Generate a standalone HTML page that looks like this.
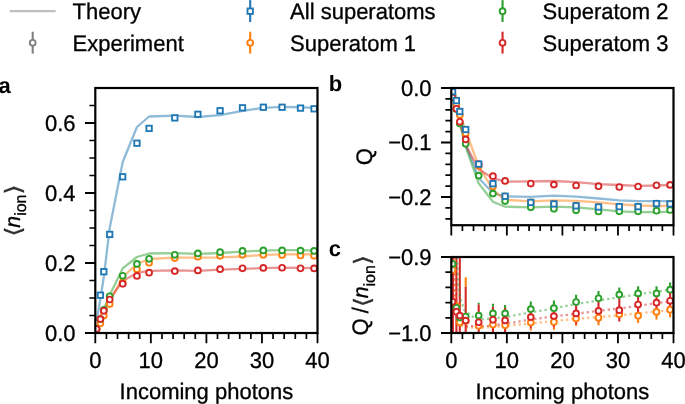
<!DOCTYPE html>
<html lang="en"><head><meta charset="utf-8"><title>Superatom ionization figure</title>
<style>html,body{margin:0;padding:0;background:#fff}body{width:685px;height:404px;overflow:hidden}svg{display:block}text{font-family:'Liberation Sans', sans-serif;font-size:22px;fill:#000;stroke:#000;stroke-width:0.3px;text-rendering:geometricPrecision}.b{font-weight:bold;stroke-width:0}.i{font-style:italic}</style>
</head><body>
<svg width="685" height="404" viewBox="0 0 685 404">
<rect width="685" height="404" fill="#fff"/>
<g id="legend">
<line x1="9.7" y1="11.2" x2="55.7" y2="11.2" stroke="#808080" stroke-opacity="0.5" stroke-width="2.3"/>
<line x1="32.7" y1="31.7" x2="32.7" y2="53.6" stroke="#808080" stroke-width="2.1"/>
<circle cx="32.7" cy="42.8" r="2.9" fill="#fff" stroke="#808080" stroke-width="1.9"/>
<line x1="250.2" y1="0.1" x2="250.2" y2="22" stroke="#1f77b4" stroke-width="2.1"/>
<rect x="247.5" y="8.5" width="5.4" height="5.4" fill="#fff" stroke="#1f77b4" stroke-width="1.85"/>
<line x1="250.2" y1="31.7" x2="250.2" y2="53.6" stroke="#ff7f0e" stroke-width="2.1"/>
<circle cx="250.2" cy="42.8" r="2.9" fill="#fff" stroke="#ff7f0e" stroke-width="1.9"/>
<line x1="502.55" y1="0.1" x2="502.55" y2="22" stroke="#2ca02c" stroke-width="2.1"/>
<circle cx="502.55" cy="11.2" r="2.9" fill="#fff" stroke="#2ca02c" stroke-width="1.9"/>
<line x1="502.55" y1="31.7" x2="502.55" y2="53.6" stroke="#d62728" stroke-width="2.1"/>
<circle cx="502.55" cy="42.8" r="2.9" fill="#fff" stroke="#d62728" stroke-width="1.9"/>
<text transform="translate(72.5 19) scale(1 1.02)" text-anchor="start" >Theory</text>
<text transform="translate(72.5 50.5) scale(1 1.02)" text-anchor="start" >Experiment</text>
<text transform="translate(290.1 19) scale(1 1.02)" text-anchor="start" >All superatoms</text>
<text transform="translate(290.1 50.5) scale(1 1.02)" text-anchor="start" >Superatom 1</text>
<text transform="translate(542.5 19) scale(1 1.02)" text-anchor="start" >Superatom 2</text>
<text transform="translate(542.5 50.5) scale(1 1.02)" text-anchor="start" >Superatom 3</text>
</g>
<g id="panel-a">
<clipPath id="ca"><rect x="95.3" y="88" width="222.2" height="245"/></clipPath>
<g clip-path="url(#ca)">
<polyline points="96.55,321 100.4,299 103.8,277 109.7,228 122.7,162 136.95,127 149.1,116.5 174.8,115.7 197.9,117 220.1,115.1 242.5,110.9 263.3,107.8 282.1,106.9 300.5,107.25 314.1,107.8" fill="none" stroke="#1f77b4" stroke-opacity="0.5" stroke-width="2.3" stroke-linejoin="round" />
<polyline points="96.55,330 100.4,322 103.8,314 109.7,302 122.7,277 136.95,264 149.1,259 174.8,257.6 197.9,257.6 220.1,257.4 242.5,256.5 263.3,254.8 282.1,254.3 300.5,254.1 314.1,254.4" fill="none" stroke="#ff7f0e" stroke-opacity="0.5" stroke-width="2.3" stroke-linejoin="round" />
<polyline points="96.55,329 100.4,319 103.8,309 109.7,295 122.7,268.4 136.95,257 149.1,253.5 174.8,253.2 197.9,253.9 220.1,253 242.5,251.6 263.3,250.6 282.1,250.2 300.5,250.2 314.1,250.6" fill="none" stroke="#2ca02c" stroke-opacity="0.5" stroke-width="2.3" stroke-linejoin="round" />
<polyline points="96.55,329 100.4,320 103.8,311.5 109.7,299 122.7,281 136.95,273 149.1,270.8 174.8,270.4 197.9,270.8 220.1,269.7 242.5,268.8 263.3,268.1 282.1,267.6 300.5,267.9 314.1,268.1" fill="none" stroke="#d62728" stroke-opacity="0.5" stroke-width="2.3" stroke-linejoin="round" />
<circle cx="96.55" cy="329" r="2.9" fill="#fff" stroke="#ff7f0e" stroke-width="1.9"/>
<circle cx="100.4" cy="323.2" r="2.9" fill="#fff" stroke="#ff7f0e" stroke-width="1.9"/>
<circle cx="103.8" cy="315.6" r="2.9" fill="#fff" stroke="#ff7f0e" stroke-width="1.9"/>
<circle cx="109.7" cy="304" r="2.9" fill="#fff" stroke="#ff7f0e" stroke-width="1.9"/>
<circle cx="122.7" cy="282.4" r="2.9" fill="#fff" stroke="#ff7f0e" stroke-width="1.9"/>
<circle cx="136.95" cy="269.3" r="2.9" fill="#fff" stroke="#ff7f0e" stroke-width="1.9"/>
<circle cx="149.1" cy="262.7" r="2.9" fill="#fff" stroke="#ff7f0e" stroke-width="1.9"/>
<circle cx="174.8" cy="258.1" r="2.9" fill="#fff" stroke="#ff7f0e" stroke-width="1.9"/>
<circle cx="197.9" cy="256.7" r="2.9" fill="#fff" stroke="#ff7f0e" stroke-width="1.9"/>
<circle cx="220.1" cy="255.8" r="2.9" fill="#fff" stroke="#ff7f0e" stroke-width="1.9"/>
<circle cx="242.5" cy="254.8" r="2.9" fill="#fff" stroke="#ff7f0e" stroke-width="1.9"/>
<circle cx="263.3" cy="254.8" r="2.9" fill="#fff" stroke="#ff7f0e" stroke-width="1.9"/>
<circle cx="282.1" cy="254.96" r="2.9" fill="#fff" stroke="#ff7f0e" stroke-width="1.9"/>
<circle cx="300.5" cy="255.5" r="2.9" fill="#fff" stroke="#ff7f0e" stroke-width="1.9"/>
<circle cx="314.1" cy="255.8" r="2.9" fill="#fff" stroke="#ff7f0e" stroke-width="1.9"/>
<circle cx="96.55" cy="329" r="2.9" fill="#fff" stroke="#2ca02c" stroke-width="1.9"/>
<circle cx="100.4" cy="319.1" r="2.9" fill="#fff" stroke="#2ca02c" stroke-width="1.9"/>
<circle cx="103.8" cy="309.8" r="2.9" fill="#fff" stroke="#2ca02c" stroke-width="1.9"/>
<circle cx="109.7" cy="296.3" r="2.9" fill="#fff" stroke="#2ca02c" stroke-width="1.9"/>
<circle cx="122.7" cy="275.8" r="2.9" fill="#fff" stroke="#2ca02c" stroke-width="1.9"/>
<circle cx="136.95" cy="263.9" r="2.9" fill="#fff" stroke="#2ca02c" stroke-width="1.9"/>
<circle cx="149.1" cy="258.8" r="2.9" fill="#fff" stroke="#2ca02c" stroke-width="1.9"/>
<circle cx="174.8" cy="254.8" r="2.9" fill="#fff" stroke="#2ca02c" stroke-width="1.9"/>
<circle cx="197.9" cy="253.4" r="2.9" fill="#fff" stroke="#2ca02c" stroke-width="1.9"/>
<circle cx="220.1" cy="252.15" r="2.9" fill="#fff" stroke="#2ca02c" stroke-width="1.9"/>
<circle cx="242.5" cy="250.9" r="2.9" fill="#fff" stroke="#2ca02c" stroke-width="1.9"/>
<circle cx="263.3" cy="250.4" r="2.9" fill="#fff" stroke="#2ca02c" stroke-width="1.9"/>
<circle cx="282.1" cy="250.4" r="2.9" fill="#fff" stroke="#2ca02c" stroke-width="1.9"/>
<circle cx="300.5" cy="250.6" r="2.9" fill="#fff" stroke="#2ca02c" stroke-width="1.9"/>
<circle cx="314.1" cy="250.9" r="2.9" fill="#fff" stroke="#2ca02c" stroke-width="1.9"/>
<circle cx="96.55" cy="329" r="2.9" fill="#fff" stroke="#d62728" stroke-width="1.9"/>
<circle cx="100.4" cy="319.1" r="2.9" fill="#fff" stroke="#d62728" stroke-width="1.9"/>
<circle cx="103.8" cy="310.8" r="2.9" fill="#fff" stroke="#d62728" stroke-width="1.9"/>
<circle cx="109.7" cy="299.5" r="2.9" fill="#fff" stroke="#d62728" stroke-width="1.9"/>
<circle cx="122.7" cy="283.8" r="2.9" fill="#fff" stroke="#d62728" stroke-width="1.9"/>
<circle cx="136.95" cy="275.9" r="2.9" fill="#fff" stroke="#d62728" stroke-width="1.9"/>
<circle cx="149.1" cy="272.7" r="2.9" fill="#fff" stroke="#d62728" stroke-width="1.9"/>
<circle cx="174.8" cy="271.1" r="2.9" fill="#fff" stroke="#d62728" stroke-width="1.9"/>
<circle cx="197.9" cy="270.4" r="2.9" fill="#fff" stroke="#d62728" stroke-width="1.9"/>
<circle cx="220.1" cy="269.15" r="2.9" fill="#fff" stroke="#d62728" stroke-width="1.9"/>
<circle cx="242.5" cy="268.3" r="2.9" fill="#fff" stroke="#d62728" stroke-width="1.9"/>
<circle cx="263.3" cy="267.9" r="2.9" fill="#fff" stroke="#d62728" stroke-width="1.9"/>
<circle cx="282.1" cy="267.75" r="2.9" fill="#fff" stroke="#d62728" stroke-width="1.9"/>
<circle cx="300.5" cy="268.3" r="2.9" fill="#fff" stroke="#d62728" stroke-width="1.9"/>
<circle cx="314.1" cy="268.4" r="2.9" fill="#fff" stroke="#d62728" stroke-width="1.9"/>
<rect x="97.7" y="292.5" width="5.4" height="5.4" fill="#fff" stroke="#1f77b4" stroke-width="1.85"/>
<rect x="101.1" y="269" width="5.4" height="5.4" fill="#fff" stroke="#1f77b4" stroke-width="1.85"/>
<rect x="107" y="231.7" width="5.4" height="5.4" fill="#fff" stroke="#1f77b4" stroke-width="1.85"/>
<rect x="120" y="174.1" width="5.4" height="5.4" fill="#fff" stroke="#1f77b4" stroke-width="1.85"/>
<rect x="134.25" y="140.5" width="5.4" height="5.4" fill="#fff" stroke="#1f77b4" stroke-width="1.85"/>
<rect x="146.4" y="125.7" width="5.4" height="5.4" fill="#fff" stroke="#1f77b4" stroke-width="1.85"/>
<rect x="172.1" y="115.2" width="5.4" height="5.4" fill="#fff" stroke="#1f77b4" stroke-width="1.85"/>
<rect x="195.2" y="111.6" width="5.4" height="5.4" fill="#fff" stroke="#1f77b4" stroke-width="1.85"/>
<rect x="217.4" y="108.05" width="5.4" height="5.4" fill="#fff" stroke="#1f77b4" stroke-width="1.85"/>
<rect x="239.8" y="105.1" width="5.4" height="5.4" fill="#fff" stroke="#1f77b4" stroke-width="1.85"/>
<rect x="260.6" y="104.55" width="5.4" height="5.4" fill="#fff" stroke="#1f77b4" stroke-width="1.85"/>
<rect x="279.4" y="104.55" width="5.4" height="5.4" fill="#fff" stroke="#1f77b4" stroke-width="1.85"/>
<rect x="297.8" y="105.4" width="5.4" height="5.4" fill="#fff" stroke="#1f77b4" stroke-width="1.85"/>
<rect x="311.4" y="106.1" width="5.4" height="5.4" fill="#fff" stroke="#1f77b4" stroke-width="1.85"/>
</g>
<path d="M106.41 333v5.9M117.52 333v5.9M128.63 333v5.9M139.74 333v5.9M161.96 333v5.9M173.07 333v5.9M184.18 333v5.9M195.29 333v5.9M217.51 333v5.9M228.62 333v5.9M239.73 333v5.9M250.84 333v5.9M273.06 333v5.9M284.17 333v5.9M295.28 333v5.9M306.39 333v5.9M95.3 315.5h-5.9M95.3 298h-5.9M95.3 280.5h-5.9M95.3 245.5h-5.9M95.3 228h-5.9M95.3 210.5h-5.9M95.3 175.5h-5.9M95.3 158h-5.9M95.3 140.5h-5.9M95.3 105.5h-5.9" stroke="#000" stroke-width="1.7" fill="none"/>
<path d="M95.3 333v10.3M150.85 333v10.3M206.4 333v10.3M261.95 333v10.3M317.5 333v10.3M95.3 333h-10.3M95.3 263h-10.3M95.3 193h-10.3M95.3 123h-10.3" stroke="#000" stroke-width="1.8" fill="none"/>
<rect x="95.3" y="88" width="222.2" height="245" fill="none" stroke="#000" stroke-width="2.2"/>
<text transform="translate(95.3 367.6) scale(1 1.025)" text-anchor="middle" >0</text>
<text transform="translate(150.85 367.6) scale(1 1.025)" text-anchor="middle" >10</text>
<text transform="translate(206.4 367.6) scale(1 1.025)" text-anchor="middle" >20</text>
<text transform="translate(261.95 367.6) scale(1 1.025)" text-anchor="middle" >30</text>
<text transform="translate(317.5 367.6) scale(1 1.025)" text-anchor="middle" >40</text>
<text transform="translate(75.5 340.7) scale(1 1.025)" text-anchor="end" >0.0</text>
<text transform="translate(75.5 270.7) scale(1 1.025)" text-anchor="end" >0.2</text>
<text transform="translate(75.5 200.7) scale(1 1.025)" text-anchor="end" >0.4</text>
<text transform="translate(75.5 130.7) scale(1 1.025)" text-anchor="end" >0.6</text>
<text transform="translate(206.4 398.5) scale(1 1.02)" text-anchor="middle" >Incoming photons</text>
<text transform="translate(19.7 236.3) rotate(-90) scale(1 1.02)" text-anchor="start"><tspan class="i" font-size="21.3" dx="8.58">n</tspan><tspan font-size="16" dy="6.5">ion</tspan></text>
<text transform="translate(21.4 231.45) rotate(-90) scale(1.22 1.02)" text-anchor="middle" font-family="'DejaVu Sans',sans-serif" font-size="22" stroke-width="0" fill-opacity="0.82">⟨</text>
<text transform="translate(21.4 189.4) rotate(-90) scale(1.22 1.02)" text-anchor="middle" font-family="'DejaVu Sans',sans-serif" font-size="22" stroke-width="0" fill-opacity="0.82">⟩</text>
<text transform="translate(-1.6 92.9) scale(1 1.0)" text-anchor="start" class="b">a</text>
</g>
<g id="panel-b">
<clipPath id="cb"><rect x="451.3" y="88" width="222.2" height="137.2"/></clipPath>
<g clip-path="url(#cb)">
<polyline points="452.55,93 456.4,104 459.8,119 465.7,144.5 478.7,178 492.95,193 505.1,196.3 530.8,196.8 553.9,195.7 576.1,196.6 598.5,198.5 619.3,200.3 638.1,201.1 656.5,201.1 670.1,201.1" fill="none" stroke="#1f77b4" stroke-opacity="0.5" stroke-width="2.3" stroke-linejoin="round" />
<polyline points="452.55,94 456.4,104 459.8,114 465.7,131 478.7,166 492.95,190 505.1,199.8 530.8,201.4 553.9,200.3 576.1,200.9 598.5,202.3 619.3,204.3 638.1,205.5 656.5,206 670.1,206" fill="none" stroke="#ff7f0e" stroke-opacity="0.5" stroke-width="2.3" stroke-linejoin="round" />
<polyline points="452.55,95 456.4,109 459.8,124 465.7,147 478.7,183.4 492.95,201.7 505.1,206.7 530.8,207.3 553.9,206.6 576.1,207.3 598.5,209.3 619.3,211.3 638.1,212.2 656.5,212.2 670.1,211.8" fill="none" stroke="#2ca02c" stroke-opacity="0.5" stroke-width="2.3" stroke-linejoin="round" />
<polyline points="452.55,95 456.4,107 459.8,121 465.7,145 478.7,169.3 492.95,178.2 505.1,181.6 530.8,181.3 553.9,181 576.1,182.1 598.5,184.1 619.3,185 638.1,185.8 656.5,185.5 670.1,185" fill="none" stroke="#d62728" stroke-opacity="0.5" stroke-width="2.3" stroke-linejoin="round" />
<circle cx="452.55" cy="95" r="2.9" fill="#fff" stroke="#ff7f0e" stroke-width="1.9"/>
<circle cx="456.4" cy="104.5" r="2.9" fill="#fff" stroke="#ff7f0e" stroke-width="1.9"/>
<circle cx="459.8" cy="114.9" r="2.9" fill="#fff" stroke="#ff7f0e" stroke-width="1.9"/>
<circle cx="465.7" cy="133.5" r="2.9" fill="#fff" stroke="#ff7f0e" stroke-width="1.9"/>
<circle cx="478.7" cy="165.8" r="2.9" fill="#fff" stroke="#ff7f0e" stroke-width="1.9"/>
<circle cx="492.95" cy="186.5" r="2.9" fill="#fff" stroke="#ff7f0e" stroke-width="1.9"/>
<circle cx="505.1" cy="196.4" r="2.9" fill="#fff" stroke="#ff7f0e" stroke-width="1.9"/>
<circle cx="530.8" cy="202.4" r="2.9" fill="#fff" stroke="#ff7f0e" stroke-width="1.9"/>
<circle cx="553.9" cy="203.9" r="2.9" fill="#fff" stroke="#ff7f0e" stroke-width="1.9"/>
<circle cx="576.1" cy="205.8" r="2.9" fill="#fff" stroke="#ff7f0e" stroke-width="1.9"/>
<circle cx="598.5" cy="207" r="2.9" fill="#fff" stroke="#ff7f0e" stroke-width="1.9"/>
<circle cx="619.3" cy="206.6" r="2.9" fill="#fff" stroke="#ff7f0e" stroke-width="1.9"/>
<circle cx="638.1" cy="206.6" r="2.9" fill="#fff" stroke="#ff7f0e" stroke-width="1.9"/>
<circle cx="656.5" cy="203.6" r="2.9" fill="#fff" stroke="#ff7f0e" stroke-width="1.9"/>
<circle cx="670.1" cy="203.9" r="2.9" fill="#fff" stroke="#ff7f0e" stroke-width="1.9"/>
<circle cx="452.55" cy="96" r="2.9" fill="#fff" stroke="#2ca02c" stroke-width="1.9"/>
<circle cx="456.4" cy="109" r="2.9" fill="#fff" stroke="#2ca02c" stroke-width="1.9"/>
<circle cx="459.8" cy="123.5" r="2.9" fill="#fff" stroke="#2ca02c" stroke-width="1.9"/>
<circle cx="465.7" cy="143.8" r="2.9" fill="#fff" stroke="#2ca02c" stroke-width="1.9"/>
<circle cx="478.7" cy="175.6" r="2.9" fill="#fff" stroke="#2ca02c" stroke-width="1.9"/>
<circle cx="492.95" cy="193.6" r="2.9" fill="#fff" stroke="#2ca02c" stroke-width="1.9"/>
<circle cx="505.1" cy="201.1" r="2.9" fill="#fff" stroke="#2ca02c" stroke-width="1.9"/>
<circle cx="530.8" cy="207.3" r="2.9" fill="#fff" stroke="#2ca02c" stroke-width="1.9"/>
<circle cx="553.9" cy="208.8" r="2.9" fill="#fff" stroke="#2ca02c" stroke-width="1.9"/>
<circle cx="576.1" cy="210.3" r="2.9" fill="#fff" stroke="#2ca02c" stroke-width="1.9"/>
<circle cx="598.5" cy="211.5" r="2.9" fill="#fff" stroke="#2ca02c" stroke-width="1.9"/>
<circle cx="619.3" cy="211.3" r="2.9" fill="#fff" stroke="#2ca02c" stroke-width="1.9"/>
<circle cx="638.1" cy="211.3" r="2.9" fill="#fff" stroke="#2ca02c" stroke-width="1.9"/>
<circle cx="656.5" cy="210.7" r="2.9" fill="#fff" stroke="#2ca02c" stroke-width="1.9"/>
<circle cx="670.1" cy="210" r="2.9" fill="#fff" stroke="#2ca02c" stroke-width="1.9"/>
<circle cx="452.55" cy="97.5" r="2.9" fill="#fff" stroke="#d62728" stroke-width="1.9"/>
<circle cx="456.4" cy="108.8" r="2.9" fill="#fff" stroke="#d62728" stroke-width="1.9"/>
<circle cx="459.8" cy="121.8" r="2.9" fill="#fff" stroke="#d62728" stroke-width="1.9"/>
<circle cx="465.7" cy="139.4" r="2.9" fill="#fff" stroke="#d62728" stroke-width="1.9"/>
<circle cx="478.7" cy="164" r="2.9" fill="#fff" stroke="#d62728" stroke-width="1.9"/>
<circle cx="492.95" cy="176.2" r="2.9" fill="#fff" stroke="#d62728" stroke-width="1.9"/>
<circle cx="505.1" cy="180.9" r="2.9" fill="#fff" stroke="#d62728" stroke-width="1.9"/>
<circle cx="530.8" cy="183.55" r="2.9" fill="#fff" stroke="#d62728" stroke-width="1.9"/>
<circle cx="553.9" cy="184.6" r="2.9" fill="#fff" stroke="#d62728" stroke-width="1.9"/>
<circle cx="576.1" cy="185.5" r="2.9" fill="#fff" stroke="#d62728" stroke-width="1.9"/>
<circle cx="598.5" cy="186.2" r="2.9" fill="#fff" stroke="#d62728" stroke-width="1.9"/>
<circle cx="619.3" cy="187" r="2.9" fill="#fff" stroke="#d62728" stroke-width="1.9"/>
<circle cx="638.1" cy="186.5" r="2.9" fill="#fff" stroke="#d62728" stroke-width="1.9"/>
<circle cx="656.5" cy="185.3" r="2.9" fill="#fff" stroke="#d62728" stroke-width="1.9"/>
<circle cx="670.1" cy="184.9" r="2.9" fill="#fff" stroke="#d62728" stroke-width="1.9"/>
<rect x="449.85" y="89" width="5.4" height="5.4" fill="#fff" stroke="#1f77b4" stroke-width="1.85"/>
<rect x="453.7" y="97.9" width="5.4" height="5.4" fill="#fff" stroke="#1f77b4" stroke-width="1.85"/>
<rect x="457.1" y="108.8" width="5.4" height="5.4" fill="#fff" stroke="#1f77b4" stroke-width="1.85"/>
<rect x="463" y="126.8" width="5.4" height="5.4" fill="#fff" stroke="#1f77b4" stroke-width="1.85"/>
<rect x="476" y="161.4" width="5.4" height="5.4" fill="#fff" stroke="#1f77b4" stroke-width="1.85"/>
<rect x="490.25" y="181" width="5.4" height="5.4" fill="#fff" stroke="#1f77b4" stroke-width="1.85"/>
<rect x="502.4" y="193.5" width="5.4" height="5.4" fill="#fff" stroke="#1f77b4" stroke-width="1.85"/>
<rect x="528.1" y="199.7" width="5.4" height="5.4" fill="#fff" stroke="#1f77b4" stroke-width="1.85"/>
<rect x="551.2" y="201.2" width="5.4" height="5.4" fill="#fff" stroke="#1f77b4" stroke-width="1.85"/>
<rect x="573.4" y="203.1" width="5.4" height="5.4" fill="#fff" stroke="#1f77b4" stroke-width="1.85"/>
<rect x="595.8" y="204.3" width="5.4" height="5.4" fill="#fff" stroke="#1f77b4" stroke-width="1.85"/>
<rect x="616.6" y="203.9" width="5.4" height="5.4" fill="#fff" stroke="#1f77b4" stroke-width="1.85"/>
<rect x="635.4" y="203.9" width="5.4" height="5.4" fill="#fff" stroke="#1f77b4" stroke-width="1.85"/>
<rect x="653.8" y="200.9" width="5.4" height="5.4" fill="#fff" stroke="#1f77b4" stroke-width="1.85"/>
<rect x="667.4" y="201.2" width="5.4" height="5.4" fill="#fff" stroke="#1f77b4" stroke-width="1.85"/>
</g>
<path d="M462.41 225.2v5.9M473.52 225.2v5.9M484.63 225.2v5.9M495.74 225.2v5.9M517.96 225.2v5.9M529.07 225.2v5.9M540.18 225.2v5.9M551.29 225.2v5.9M573.51 225.2v5.9M584.62 225.2v5.9M595.73 225.2v5.9M606.84 225.2v5.9M629.06 225.2v5.9M640.17 225.2v5.9M651.28 225.2v5.9M662.39 225.2v5.9M451.3 98.9h-5.9M451.3 109.8h-5.9M451.3 120.7h-5.9M451.3 131.6h-5.9M451.3 153.4h-5.9M451.3 164.3h-5.9M451.3 175.2h-5.9M451.3 186.1h-5.9M451.3 207.9h-5.9M451.3 218.8h-5.9" stroke="#000" stroke-width="1.7" fill="none"/>
<path d="M451.3 225.2v10.3M506.85 225.2v10.3M562.4 225.2v10.3M617.95 225.2v10.3M673.5 225.2v10.3M451.3 88h-10.3M451.3 142.5h-10.3M451.3 197h-10.3" stroke="#000" stroke-width="1.8" fill="none"/>
<rect x="451.3" y="88" width="222.2" height="137.2" fill="none" stroke="#000" stroke-width="2.2"/>
<text transform="translate(431.6 95.7) scale(1 1.025)" text-anchor="end" >0.0</text>
<text transform="translate(431.6 150.2) scale(1 1.025)" text-anchor="end" >−0.1</text>
<text transform="translate(431.6 204.7) scale(1 1.025)" text-anchor="end" >−0.2</text>
<text transform="translate(371.6 156.6) rotate(-90) scale(1 1.02)" text-anchor="middle">Q</text>
<text transform="translate(328.8 90.9) scale(1 1.0)" text-anchor="start" class="b">b</text>
</g>
<g id="panel-c">
<clipPath id="cc"><rect x="451.3" y="257" width="222.2" height="76"/></clipPath>
<g clip-path="url(#cc)">
<line x1="452.9" y1="255" x2="452.9" y2="335" stroke="#d62728" stroke-width="2.1"/>
<line x1="456.4" y1="255" x2="456.4" y2="335" stroke="#d62728" stroke-width="2.1"/>
<line x1="459.8" y1="255" x2="459.8" y2="335" stroke="#d62728" stroke-width="2.1"/>
<line x1="465.7" y1="277.3" x2="465.7" y2="286.5" stroke="#ff7f0e" stroke-width="2.1"/>
<line x1="465.7" y1="286.5" x2="465.7" y2="286.8" stroke="#2ca02c" stroke-width="2.1"/>
<line x1="465.7" y1="286.8" x2="465.7" y2="335" stroke="#d62728" stroke-width="2.1"/>
<line x1="478.7" y1="302.8" x2="478.7" y2="304.5" stroke="#2ca02c" stroke-width="2.1"/>
<line x1="478.7" y1="304.5" x2="478.7" y2="335" stroke="#d62728" stroke-width="2.1"/>
<line x1="492.95" y1="332.8" x2="492.95" y2="334" stroke="#ff7f0e" stroke-width="2.1"/>
<line x1="492.95" y1="303.7" x2="492.95" y2="306.8" stroke="#2ca02c" stroke-width="2.1"/>
<line x1="492.95" y1="306.8" x2="492.95" y2="332.8" stroke="#d62728" stroke-width="2.1"/>
<line x1="505.1" y1="332.8" x2="505.1" y2="333.8" stroke="#ff7f0e" stroke-width="2.1"/>
<line x1="505.1" y1="305" x2="505.1" y2="308" stroke="#2ca02c" stroke-width="2.1"/>
<line x1="505.1" y1="308" x2="505.1" y2="332.8" stroke="#d62728" stroke-width="2.1"/>
<line x1="530.8" y1="328.6" x2="530.8" y2="330.5" stroke="#ff7f0e" stroke-width="2.1"/>
<line x1="530.8" y1="301.5" x2="530.8" y2="305.6" stroke="#2ca02c" stroke-width="2.1"/>
<line x1="530.8" y1="305.6" x2="530.8" y2="328.6" stroke="#d62728" stroke-width="2.1"/>
<line x1="553.9" y1="327.4" x2="553.9" y2="329.7" stroke="#ff7f0e" stroke-width="2.1"/>
<line x1="553.9" y1="300.5" x2="553.9" y2="304.8" stroke="#2ca02c" stroke-width="2.1"/>
<line x1="553.9" y1="304.8" x2="553.9" y2="327.4" stroke="#d62728" stroke-width="2.1"/>
<line x1="576.1" y1="324.6" x2="576.1" y2="326" stroke="#ff7f0e" stroke-width="2.1"/>
<line x1="576.1" y1="294.8" x2="576.1" y2="302.2" stroke="#2ca02c" stroke-width="2.1"/>
<line x1="576.1" y1="302.2" x2="576.1" y2="324.6" stroke="#d62728" stroke-width="2.1"/>
<line x1="598.5" y1="322.1" x2="598.5" y2="325.2" stroke="#ff7f0e" stroke-width="2.1"/>
<line x1="598.5" y1="291.1" x2="598.5" y2="299.7" stroke="#2ca02c" stroke-width="2.1"/>
<line x1="598.5" y1="299.7" x2="598.5" y2="322.1" stroke="#d62728" stroke-width="2.1"/>
<line x1="619.3" y1="287.4" x2="619.3" y2="299" stroke="#2ca02c" stroke-width="2.1"/>
<line x1="619.3" y1="299" x2="619.3" y2="321.4" stroke="#d62728" stroke-width="2.1"/>
<line x1="638.1" y1="315.5" x2="638.1" y2="322.9" stroke="#ff7f0e" stroke-width="2.1"/>
<line x1="638.1" y1="286.2" x2="638.1" y2="293.5" stroke="#2ca02c" stroke-width="2.1"/>
<line x1="638.1" y1="293.5" x2="638.1" y2="315.5" stroke="#d62728" stroke-width="2.1"/>
<line x1="656.5" y1="313.7" x2="656.5" y2="319.4" stroke="#ff7f0e" stroke-width="2.1"/>
<line x1="656.5" y1="286.2" x2="656.5" y2="291.7" stroke="#2ca02c" stroke-width="2.1"/>
<line x1="656.5" y1="291.7" x2="656.5" y2="313.7" stroke="#d62728" stroke-width="2.1"/>
<line x1="670.1" y1="311.8" x2="670.1" y2="317.3" stroke="#ff7f0e" stroke-width="2.1"/>
<line x1="670.1" y1="282.4" x2="670.1" y2="289.8" stroke="#2ca02c" stroke-width="2.1"/>
<line x1="670.1" y1="289.8" x2="670.1" y2="311.8" stroke="#d62728" stroke-width="2.1"/>
<polyline points="454.6,258 455.3,295 456.5,316 459.5,325 466,327.5 486,327.5 511,325.3 530.7,323.5 553.7,321 575.85,318.9 598.3,317.1 619,315.3 637.7,313.4 656.4,311.5 670,310.2" fill="none" stroke="#ff7f0e" stroke-opacity="0.5" stroke-width="2.3" stroke-dasharray="2.3 3"/>
<polyline points="456.7,257 458.5,285 459.8,295.5 461,300.5 462.6,304.8 464.1,309.8 471.5,316 478.7,319.5 493,318.5 505,317.1 530.7,312.4 553.7,308.5 575.85,304 598.3,300.5 619,297.4 637.7,294.4 656.4,291.6 670,289.6" fill="none" stroke="#2ca02c" stroke-opacity="0.5" stroke-width="2.3" stroke-dasharray="2.3 3"/>
<polyline points="454,257 454.6,290 455.6,312 458,322 465,326.3 485,326 499,324.5 514,322.3 530.7,319.5 553.7,316.5 575.85,313.8 598.3,310.8 619,308.5 637.7,305.8 656.4,303.2 670,301.5" fill="none" stroke="#d62728" stroke-opacity="0.5" stroke-width="2.3" stroke-dasharray="2.3 3"/>
<circle cx="452.55" cy="270" r="2.9" fill="#fff" stroke="#ff7f0e" stroke-width="1.9"/>
<circle cx="456.4" cy="306" r="2.9" fill="#fff" stroke="#ff7f0e" stroke-width="1.9"/>
<circle cx="459.8" cy="322.3" r="2.9" fill="#fff" stroke="#ff7f0e" stroke-width="1.9"/>
<circle cx="465.7" cy="321" r="2.9" fill="#fff" stroke="#ff7f0e" stroke-width="1.9"/>
<circle cx="478.7" cy="325.7" r="2.9" fill="#fff" stroke="#ff7f0e" stroke-width="1.9"/>
<circle cx="492.95" cy="324.5" r="2.9" fill="#fff" stroke="#ff7f0e" stroke-width="1.9"/>
<circle cx="505.1" cy="325.3" r="2.9" fill="#fff" stroke="#ff7f0e" stroke-width="1.9"/>
<circle cx="530.8" cy="322.6" r="2.9" fill="#fff" stroke="#ff7f0e" stroke-width="1.9"/>
<circle cx="553.9" cy="322" r="2.9" fill="#fff" stroke="#ff7f0e" stroke-width="1.9"/>
<circle cx="576.1" cy="318.6" r="2.9" fill="#fff" stroke="#ff7f0e" stroke-width="1.9"/>
<circle cx="598.5" cy="317.8" r="2.9" fill="#fff" stroke="#ff7f0e" stroke-width="1.9"/>
<circle cx="619.3" cy="314.2" r="2.9" fill="#fff" stroke="#ff7f0e" stroke-width="1.9"/>
<circle cx="638.1" cy="315.7" r="2.9" fill="#fff" stroke="#ff7f0e" stroke-width="1.9"/>
<circle cx="656.5" cy="311.9" r="2.9" fill="#fff" stroke="#ff7f0e" stroke-width="1.9"/>
<circle cx="670.1" cy="309.7" r="2.9" fill="#fff" stroke="#ff7f0e" stroke-width="1.9"/>
<circle cx="452.55" cy="263.9" r="2.9" fill="#fff" stroke="#2ca02c" stroke-width="1.9"/>
<circle cx="456.4" cy="307.8" r="2.9" fill="#fff" stroke="#2ca02c" stroke-width="1.9"/>
<circle cx="459.8" cy="317.6" r="2.9" fill="#fff" stroke="#2ca02c" stroke-width="1.9"/>
<circle cx="465.7" cy="316.5" r="2.9" fill="#fff" stroke="#2ca02c" stroke-width="1.9"/>
<circle cx="478.7" cy="315.6" r="2.9" fill="#fff" stroke="#2ca02c" stroke-width="1.9"/>
<circle cx="492.95" cy="313.4" r="2.9" fill="#fff" stroke="#2ca02c" stroke-width="1.9"/>
<circle cx="505.1" cy="313.4" r="2.9" fill="#fff" stroke="#2ca02c" stroke-width="1.9"/>
<circle cx="530.8" cy="309.1" r="2.9" fill="#fff" stroke="#2ca02c" stroke-width="1.9"/>
<circle cx="553.9" cy="308.2" r="2.9" fill="#fff" stroke="#2ca02c" stroke-width="1.9"/>
<circle cx="576.1" cy="302" r="2.9" fill="#fff" stroke="#2ca02c" stroke-width="1.9"/>
<circle cx="598.5" cy="298.3" r="2.9" fill="#fff" stroke="#2ca02c" stroke-width="1.9"/>
<circle cx="619.3" cy="294.6" r="2.9" fill="#fff" stroke="#2ca02c" stroke-width="1.9"/>
<circle cx="638.1" cy="293.4" r="2.9" fill="#fff" stroke="#2ca02c" stroke-width="1.9"/>
<circle cx="656.5" cy="293.4" r="2.9" fill="#fff" stroke="#2ca02c" stroke-width="1.9"/>
<circle cx="670.1" cy="289.7" r="2.9" fill="#fff" stroke="#2ca02c" stroke-width="1.9"/>
<circle cx="452.55" cy="301.7" r="2.9" fill="#fff" stroke="#d62728" stroke-width="1.9"/>
<circle cx="456.4" cy="311.7" r="2.9" fill="#fff" stroke="#d62728" stroke-width="1.9"/>
<circle cx="459.8" cy="315.6" r="2.9" fill="#fff" stroke="#d62728" stroke-width="1.9"/>
<circle cx="465.7" cy="320.6" r="2.9" fill="#fff" stroke="#d62728" stroke-width="1.9"/>
<circle cx="478.7" cy="322.3" r="2.9" fill="#fff" stroke="#d62728" stroke-width="1.9"/>
<circle cx="492.95" cy="319.8" r="2.9" fill="#fff" stroke="#d62728" stroke-width="1.9"/>
<circle cx="505.1" cy="320.4" r="2.9" fill="#fff" stroke="#d62728" stroke-width="1.9"/>
<circle cx="530.8" cy="317.1" r="2.9" fill="#fff" stroke="#d62728" stroke-width="1.9"/>
<circle cx="553.9" cy="316.1" r="2.9" fill="#fff" stroke="#d62728" stroke-width="1.9"/>
<circle cx="576.1" cy="313.4" r="2.9" fill="#fff" stroke="#d62728" stroke-width="1.9"/>
<circle cx="598.5" cy="310.9" r="2.9" fill="#fff" stroke="#d62728" stroke-width="1.9"/>
<circle cx="619.3" cy="310.2" r="2.9" fill="#fff" stroke="#d62728" stroke-width="1.9"/>
<circle cx="638.1" cy="304.5" r="2.9" fill="#fff" stroke="#d62728" stroke-width="1.9"/>
<circle cx="656.5" cy="302.7" r="2.9" fill="#fff" stroke="#d62728" stroke-width="1.9"/>
<circle cx="670.1" cy="300.8" r="2.9" fill="#fff" stroke="#d62728" stroke-width="1.9"/>
</g>
<path d="M462.41 333v5.9M473.52 333v5.9M484.63 333v5.9M495.74 333v5.9M517.96 333v5.9M529.07 333v5.9M540.18 333v5.9M551.29 333v5.9M573.51 333v5.9M584.62 333v5.9M595.73 333v5.9M606.84 333v5.9M629.06 333v5.9M640.17 333v5.9M651.28 333v5.9M662.39 333v5.9M451.3 272.2h-5.9M451.3 287.4h-5.9M451.3 302.6h-5.9M451.3 317.8h-5.9" stroke="#000" stroke-width="1.7" fill="none"/>
<path d="M451.3 333v10.3M506.85 333v10.3M562.4 333v10.3M617.95 333v10.3M673.5 333v10.3M451.3 257h-10.3M451.3 333h-10.3" stroke="#000" stroke-width="1.8" fill="none"/>
<rect x="451.3" y="257" width="222.2" height="76" fill="none" stroke="#000" stroke-width="2.2"/>
<text transform="translate(451.3 367.6) scale(1 1.025)" text-anchor="middle" >0</text>
<text transform="translate(506.85 367.6) scale(1 1.025)" text-anchor="middle" >10</text>
<text transform="translate(562.4 367.6) scale(1 1.025)" text-anchor="middle" >20</text>
<text transform="translate(617.95 367.6) scale(1 1.025)" text-anchor="middle" >30</text>
<text transform="translate(673.5 367.6) scale(1 1.025)" text-anchor="middle" >40</text>
<text transform="translate(431.6 264.7) scale(1 1.025)" text-anchor="end" >−0.9</text>
<text transform="translate(431.6 340.7) scale(1 1.025)" text-anchor="end" >−1.0</text>
<text transform="translate(562.4 398.5) scale(1 1.02)" text-anchor="middle" >Incoming photons</text>
<text transform="translate(368.3 335.6) rotate(-90) scale(1 1.02)" text-anchor="start">Q<tspan dx="-1"> /</tspan><tspan class="i" font-size="21.3" dx="8.88">n</tspan><tspan font-size="16" dy="6.5">ion</tspan></text>
<text transform="translate(370 302.1) rotate(-90) scale(1.22 1.02)" text-anchor="middle" font-family="'DejaVu Sans',sans-serif" font-size="22" stroke-width="0" fill-opacity="0.82">⟨</text>
<text transform="translate(370 259.9) rotate(-90) scale(1.22 1.02)" text-anchor="middle" font-family="'DejaVu Sans',sans-serif" font-size="22" stroke-width="0" fill-opacity="0.82">⟩</text>
<text transform="translate(328.8 256) scale(1 1.0)" text-anchor="start" class="b">c</text>
</g>
</svg>
</body></html>
